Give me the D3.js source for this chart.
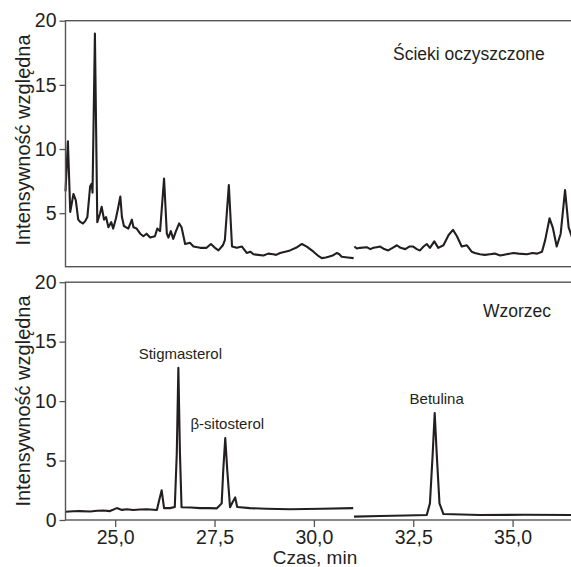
<!DOCTYPE html>
<html>
<head>
<meta charset="utf-8">
<script src="https://cdn.jsdelivr.net/npm/d3@7"></script>
<style>
  body { margin: 0; background: #fff; }
  svg { display: block; font-family: "Liberation Sans", Arial, sans-serif; }
  .frame { fill: none; stroke: #555; stroke-width: 1.4; }
  .trace { fill: none; stroke: #231f20; stroke-width: 2.1; stroke-linejoin: round; }
  .axis path { display: none; }
  .axis line { stroke: #555; stroke-width: 1.3; }
  .axis text { font-size: 19.5px; fill: #231f20; }
</style>
</head>
<body>
<div id="chart"></div>
<script>
// treated sewage trace as [time, intensity], before and after the break at 31 min
var sewageA = [
  [23.75, 6.7], [23.81, 10.6], [23.87, 5.1], [23.95, 6.5], [24.01, 6.0], [24.07, 4.5], [24.13, 4.3],
  [24.19, 4.2], [24.25, 4.4], [24.30, 4.7], [24.37, 7.1], [24.41, 7.3], [24.43, 6.6], [24.49, 19.0],
  [24.55, 4.3], [24.62, 5.0], [24.66, 5.5], [24.72, 4.5], [24.77, 4.7], [24.83, 3.9], [24.90, 4.3],
  [24.95, 3.8], [25.02, 4.6], [25.08, 5.5], [25.13, 6.3], [25.17, 4.7], [25.22, 4.0], [25.33, 3.8],
  [25.42, 4.5], [25.46, 3.9], [25.54, 3.8], [25.63, 3.4], [25.71, 3.2], [25.79, 3.4], [25.88, 3.1],
  [26.00, 3.2], [26.06, 3.8], [26.13, 3.6], [26.23, 7.7], [26.30, 3.4], [26.34, 3.1], [26.40, 3.6],
  [26.46, 3.0], [26.53, 3.6], [26.61, 4.2], [26.67, 3.9], [26.76, 2.6], [26.88, 2.7], [26.97, 2.4],
  [27.14, 2.3], [27.30, 2.3], [27.41, 2.6], [27.51, 2.3], [27.60, 2.1], [27.71, 2.5], [27.76, 2.9],
  [27.86, 7.2], [27.94, 2.4], [28.06, 2.3], [28.19, 2.4], [28.31, 1.9], [28.40, 2.0], [28.48, 1.8],
  [28.60, 1.75], [28.73, 1.7], [28.85, 1.85], [28.98, 1.8], [29.05, 1.75], [29.15, 1.9], [29.28, 2.0],
  [29.40, 2.1], [29.55, 2.3], [29.70, 2.6], [29.82, 2.4], [29.99, 2.0], [30.10, 1.7], [30.20, 1.5],
  [30.30, 1.55], [30.37, 1.6], [30.47, 1.7], [30.58, 1.9], [30.64, 1.8], [30.70, 1.6], [30.85, 1.55],
  [31.00, 1.5]
];
var sewageB = [
  [31.02, 2.4], [31.08, 2.25], [31.16, 2.3], [31.33, 2.35], [31.42, 2.2], [31.50, 2.3], [31.58, 2.35],
  [31.67, 2.4], [31.77, 2.2], [31.87, 2.1], [31.98, 2.3], [32.09, 2.5], [32.18, 2.3], [32.30, 2.2],
  [32.40, 2.4], [32.50, 2.4], [32.59, 2.2], [32.67, 2.1], [32.76, 2.4], [32.84, 2.6], [32.92, 2.3],
  [33.03, 2.8], [33.13, 2.3], [33.26, 2.5], [33.39, 3.3], [33.50, 3.7], [33.60, 3.2], [33.72, 2.4],
  [33.85, 2.5], [33.97, 2.0], [34.05, 1.9], [34.18, 1.8], [34.30, 1.75], [34.43, 1.8], [34.55, 1.85],
  [34.69, 1.7], [34.85, 1.8], [35.02, 1.9], [35.15, 1.85], [35.36, 1.8], [35.50, 1.9], [35.62, 1.85],
  [35.74, 2.0], [35.82, 2.9], [35.93, 4.6], [36.01, 3.9], [36.11, 2.4], [36.21, 3.4], [36.32, 6.8],
  [36.41, 3.9], [36.52, 2.9]
];

// standard (wzorzec) trace
var standardA = [
  [23.75, 0.7], [23.95, 0.74], [24.10, 0.75], [24.37, 0.72], [24.55, 0.78], [24.70, 0.8], [24.87, 0.75],
  [25.04, 1.0], [25.17, 0.85], [25.30, 0.9], [25.45, 0.84], [25.62, 0.88], [25.80, 0.9], [26.05, 0.84],
  [26.11, 1.7], [26.17, 2.5], [26.23, 1.0], [26.38, 1.0], [26.50, 1.1], [26.55, 5.6], [26.59, 12.8],
  [26.63, 5.6], [26.67, 1.07], [26.90, 1.05], [27.14, 1.0], [27.35, 1.0], [27.56, 0.98], [27.68, 1.4],
  [27.72, 4.2], [27.77, 6.9], [27.82, 4.2], [27.89, 1.07], [27.96, 1.54], [28.02, 1.9], [28.07, 1.1],
  [28.39, 1.0], [28.80, 0.95], [29.40, 0.9], [30.20, 0.95], [30.99, 1.0]
];
var standardB = [
  [31.01, 0.28], [31.67, 0.34], [32.30, 0.38], [32.84, 0.42], [32.92, 1.4], [32.99, 5.6], [33.04, 9.0],
  [33.09, 5.6], [33.16, 1.4], [33.26, 0.5], [34.18, 0.42], [35.30, 0.44], [36.52, 0.42]
];

// peak labels in the standard
var peakNames = ["Stigmasterol", "β-sitosterol", "Betulina"];
var peakTimes = [26.59, 27.77, 33.04];
var peakInts = [12.8, 6.9, 9.0];

// ticks
var xTicks = [25.0, 27.5, 30.0, 32.5, 35.0];
var yTicksTop = [5, 10, 15, 20];
var yTicksBottom = [0, 5, 10, 15, 20];

var width = 571, height = 567;
var left = 65.5, right = 573; // right edge of the frame sits just off the picture

var svg = d3.select("#chart").append("svg")
  .attr("width", width)
  .attr("height", height);

var x = d3.scaleLinear().domain([23.75, 36.52]).range([left, right]);

// polish decimal comma for the time axis
var plLocale = d3.formatLocale({ decimal: ",", thousands: " ", grouping: [3], currency: ["", " zł"] });
var fmtTime = plLocale.format(".1f");

// draws one panel: frame, y axis, trace segments
function drawPanel(cfg) {
  var y = d3.scaleLinear().domain(cfg.yDomain).range([cfg.bottom, cfg.top]);
  var g = svg.append("g");

  var line = d3.line()
    .x(function (d) { return x(d[0]); })
    .y(function (d) { return y(d[1]); });

  cfg.segments.forEach(function (seg) {
    g.append("path")
      .attr("class", "trace")
      .attr("d", line(seg));
  });

  g.append("rect")
    .attr("class", "frame")
    .attr("x", left)
    .attr("y", cfg.top)
    .attr("width", right - left)
    .attr("height", cfg.bottom - cfg.top);

  g.append("g")
    .attr("class", "axis")
    .attr("transform", "translate(" + left + ",0)")
    .call(d3.axisLeft(y).tickValues(cfg.yTicks).tickSize(6).tickPadding(3).tickFormat(d3.format("d")));

  // rotated y title
  g.append("text")
    .attr("transform", "translate(29.5," + cfg.titleY + ") rotate(-90)")
    .attr("text-anchor", "middle")
    .style("font-size", "20px")
    .style("fill", "#231f20")
    .text("Intensywność względna");

  g.append("text")
    .attr("x", cfg.labelX)
    .attr("y", cfg.labelY)
    .style("font-size", "17.5px")
    .style("fill", "#231f20")
    .text(cfg.label);

  return y;
}

drawPanel({
  top: 20.7, bottom: 266.7, yDomain: [0.83, 20], yTicks: yTicksTop,
  titleY: 140, label: "Ścieki oczyszczone", labelX: 393, labelY: 60,
  segments: [sewageA, sewageB]
});

var yStd = drawPanel({
  top: 282.2, bottom: 520, yDomain: [0, 20], yTicks: yTicksBottom,
  titleY: 401, label: "Wzorzec", labelX: 483, labelY: 316.7,
  segments: [standardA, standardB]
});

// x axis only under the lower panel
svg.append("g")
  .attr("class", "axis")
  .attr("transform", "translate(0,520)")
  .call(d3.axisBottom(x).tickValues(xTicks).tickSize(7).tickPadding(3.5).tickFormat(fmtTime));

svg.append("text")
  .attr("x", 315)
  .attr("y", 564)
  .attr("text-anchor", "middle")
  .style("font-size", "19px")
  .style("fill", "#231f20")
  .text("Czas, min");

// compound names just above their peaks
svg.selectAll(".peak-label")
  .data(peakNames)
  .enter()
  .append("text")
  .attr("class", "peak-label")
  .attr("x", function (d, i) { return x(peakTimes[i]) + 2; })
  .attr("y", function (d, i) { return yStd(peakInts[i]) - 9; })
  .attr("text-anchor", "middle")
  .style("font-size", "15px")
  .style("fill", "#231f20")
  .text(function (d) { return d; });
</script>
</body>
</html>
